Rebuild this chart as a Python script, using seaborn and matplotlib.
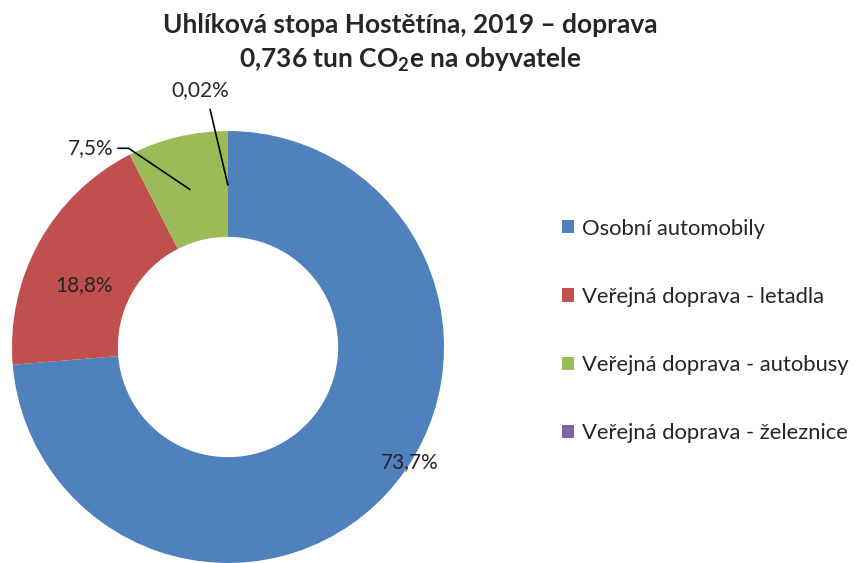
import numpy as np
import matplotlib
matplotlib.use("Agg")
import matplotlib.pyplot as plt
import seaborn as sns

# Data
categories = ["Osobní automobily", "Veřejná doprava - letadla",
              "Veřejná doprava - autobusy", "Veřejná doprava - železnice"]
shares = [73.7, 18.8, 7.5, 0.02]
labels = ["73,7%", "18,8%", "7,5%", "0,02%"]
colors = ["#4F81BD", "#C0504D", "#9BBB59", "#8064A2"]

sns.set_style("white")
plt.rcParams['font.family'] = ['Lato', 'DejaVu Sans']
plt.rcParams['mathtext.fontset'] = 'custom'
plt.rcParams['mathtext.rm'] = 'Lato'
plt.rcParams['mathtext.bf'] = 'Lato:bold'

fig = plt.figure(figsize=(8.56, 5.63), dpi=100)
ax = fig.add_axes([12 / 856, 0.0, 432 / 856, 432 / 563])

wedges, _ = ax.pie(shares, colors=sns.color_palette(colors), startangle=90,
                   counterclock=False, radius=1.0,
                   wedgeprops=dict(width=0.49, linewidth=0))
ax.set_xlim(-1, 1)
ax.set_ylim(-1, 1)
ax.set_aspect("equal")
ax.axis("off")

def anchor(w, r=0.75):
    ang = np.deg2rad((w.theta1 + w.theta2) / 2)
    return r * np.cos(ang), r * np.sin(ang)

fs = 15
# inside labels
ax.text(0.843, -0.532, labels[0], ha="center", va="center", fontsize=fs)
ax.text(-0.667, 0.287, labels[1], ha="center", va="center", fontsize=fs)

# leader labels
x0, y0 = anchor(wedges[2])
ax.plot([x0, -0.46, -0.51], [y0, 0.92, 0.92], color="black", lw=1.2, clip_on=False)
ax.text(-0.53, 0.92, labels[2], ha="right", va="center", fontsize=fs)

x1, y1 = anchor(wedges[3])
ax.plot([x1, -0.083], [y1, 1.10], color="black", lw=1.2, clip_on=False)
ax.text(-0.13, 1.19, labels[3], ha="center", va="center", fontsize=fs)

# legend
leg = fig.legend(wedges, categories, loc="center left",
                 bbox_to_anchor=(562 / 856, 1 - 331 / 563), frameon=False,
                 fontsize=15.8, handlelength=0.55, handleheight=0.55,
                 handletextpad=0.35, labelspacing=2.2,
                 borderpad=0, borderaxespad=0)

fig.text(410 / 856, 1 - 25 / 563, "Uhlíková stopa Hostětína, 2019 – doprava",
         ha="center", va="center", fontsize=19, fontweight="bold")
fig.text(410 / 856, 1 - 60 / 563, "0,736 tun CO$_\\mathbf{2}$e na obyvatele",
         ha="center", va="center", fontsize=19, fontweight="bold")

fig.savefig("out.png", dpi=100)
